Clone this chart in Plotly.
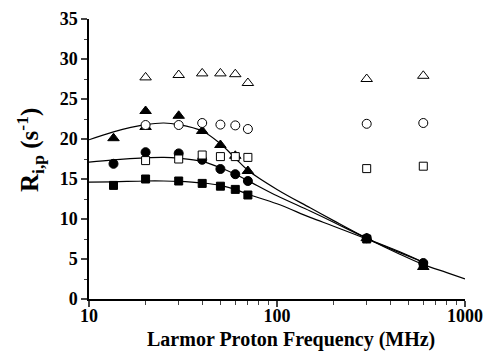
import plotly.graph_objects as go

# --- data ---
freq = [13.5, 20, 30, 40, 50, 60, 70, 300, 600]
filled_square = [14.2, 15.0, 14.75, 14.45, 14.1, 13.7, 13.0, 7.5, 4.2]
filled_circle = [16.9, 18.35, 18.2, 17.4, 16.25, 15.6, 14.75, 7.6, 4.5]

freq_tri = [13.5, 20, 20, 30, 40, 50, 60, 70, 300, 600]
filled_triangle = [20.1, 23.5, 21.5, 22.9, 21.0, 19.25, 17.9, 16.0, 7.6, 4.0]

freq_open = [20, 30, 40, 50, 60, 70, 300, 600]
open_triangle = [27.7, 28.0, 28.2, 28.2, 28.1, 27.0, 27.5, 27.9]
open_circle = [21.75, 21.75, 22.0, 21.8, 21.7, 21.25, 21.9, 22.0]
open_square = [17.3, 17.5, 18.0, 17.8, 17.8, 17.7, 16.3, 16.6]

fit1_f = [10, 13.5, 20, 25, 30, 40, 50, 60, 70, 100, 150, 200, 300, 450, 600, 800, 1000]
fit1_y = [19.9, 20.9, 21.8, 22.0, 21.8, 21.0, 19.4, 17.6, 16.1, 13.7, 11.4, 9.8, 7.6, 5.6, 4.3, 3.3, 2.5]
fit_f = [10, 13.5, 20, 25, 30, 40, 50, 60, 70, 100, 150, 200, 300, 450, 600]
fit2_y = [17.1, 17.4, 17.65, 17.7, 17.6, 17.2, 16.4, 15.6, 14.8, 12.9, 11.0, 9.6, 7.6, 5.9, 4.6]
fit3_y = [14.6, 14.65, 14.75, 14.75, 14.7, 14.5, 14.2, 13.7, 13.1, 11.9, 10.2, 9.1, 7.5, 5.8, 4.6]

y_ticks = [0, 5, 10, 15, 20, 25, 30, 35]
x_ticks = [10, 100, 1000]

FONT = "Liberation Serif"
fig = go.Figure()

for fx, fy in [(fit1_f, fit1_y), (fit_f, fit2_y), (fit_f, fit3_y)]:
    fig.add_trace(go.Scatter(x=fx, y=fy, mode="lines", line=dict(color="black", width=1.2, shape="spline"),
                             showlegend=False, hoverinfo="skip"))

def mk(x, y, symbol, size, fill):
    fig.add_trace(go.Scatter(x=x, y=y, mode="markers", showlegend=False,
                             marker=dict(symbol=symbol, size=size, color=fill,
                                         line=dict(color="black", width=1))))

mk(freq, filled_square, "square", 8, "black")
mk(freq, filled_circle, "circle", 9, "black")
mk(freq_tri, filled_triangle, "triangle-up", 10, "black")
mk(freq_open, open_triangle, "triangle-up", 10, "white")
mk(freq_open, open_circle, "circle", 9, "white")
mk(freq_open, open_square, "square", 8, "white")

fig.update_layout(
    width=487, height=356,
    margin=dict(l=89, r=22, t=19, b=57, autoexpand=False),
    paper_bgcolor="white", plot_bgcolor="white",
    font=dict(family=FONT, color="black"),
    xaxis=dict(type="log", range=[1, 3], tickvals=x_ticks, ticktext=[str(v) for v in x_ticks],
               ticks="outside", ticklen=6, tickwidth=1.5, showgrid=False, zeroline=False,
               showline=True, linecolor="black", linewidth=1.5, automargin=False,
               ticklabelstandoff=-6,
               tickfont=dict(family=FONT, size=18, weight="bold"),
               minor=dict(ticks="outside", ticklen=4, tickwidth=1.2, dtick="D1", showgrid=False)),
    yaxis=dict(range=[0, 35], tickvals=y_ticks, ticks="outside", ticklen=6, tickwidth=1.5,
               showgrid=False, zeroline=False, showline=True, linecolor="black", linewidth=1.5,
               automargin=False,
               tickfont=dict(family=FONT, size=18, weight="bold"),
               minor=dict(ticks="outside", ticklen=3, tickwidth=1.2, dtick=2.5, showgrid=False)),
    annotations=[
        dict(text="<b>Larmor Proton Frequency (MHz)</b>", xref="paper", yref="paper",
             x=0.537, y=-0.146, xanchor="center", yanchor="middle", showarrow=False,
             font=dict(family=FONT, size=20)),
        dict(text="<b>R<sub>i,p</sub> (s<sup>-1</sup>)</b>", xref="paper", yref="paper",
             x=-0.157, y=0.532, xanchor="center", yanchor="middle", textangle=-90, showarrow=False,
             font=dict(family=FONT, size=25)),
    ],
)

fig.write_html("out.html", config={"displayModeBar": False},
               post_script="document.body.style.margin='0';document.body.style.overflow='hidden';")
